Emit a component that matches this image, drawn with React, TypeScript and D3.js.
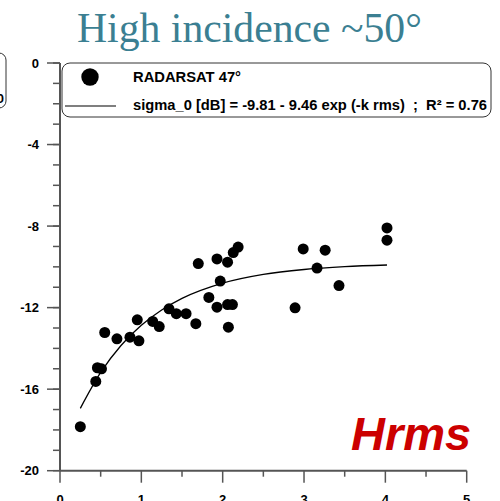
import React from "react";
import * as d3 from "d3";

const hrms = [0.25, 0.44, 0.46, 0.51, 0.55, 0.7, 0.86, 0.97, 0.95, 1.14, 1.22, 1.34, 1.43, 1.55, 1.67, 1.7, 1.83, 1.93, 1.93, 1.97, 2.06, 2.06, 2.12, 2.07, 2.13, 2.19, 2.99, 3.26, 3.16, 3.43, 2.89, 4.02, 4.02];
const sigma0 = [-17.84, -15.62, -14.95, -15.0, -13.22, -13.53, -13.45, -13.63, -12.6, -12.68, -12.93, -12.06, -12.3, -12.3, -12.79, -9.84, -11.5, -9.61, -11.98, -10.7, -9.77, -11.85, -11.85, -12.96, -9.3, -9.03, -9.12, -9.18, -10.06, -10.92, -12.01, -8.69, -8.09];

const fitX = [0.25, 0.5, 0.75, 1.0, 1.25, 1.5, 2.0, 2.5, 3.0, 3.5, 4.02];
const fitY = [-16.94, -15.18, -13.86, -12.87, -12.12, -11.55, -10.8, -10.37, -10.13, -9.99, -9.91];

const xMajor = [0, 1, 2, 3, 4, 5];
const xMinor = [0.5, 1.5, 2.5, 3.5, 4.5];
const yMajor = [0, -4, -8, -12, -16, -20];
const yMinor = d3.range(0, -21, -1);

const title = "High incidence ~50°";
const legendSeries = "RADARSAT 47°";
const legendFit = "sigma_0 [dB] = -9.81 - 9.46 exp (-k rms)  ;  R² = 0.76";
const axisName = "Hrms";

export default function App() {
  const x = d3.scaleLinear().domain([0, 5]).range([60, 466.7]);
  const y = d3.scaleLinear().domain([-20, 0]).range([470.7, 63]);
  const line = d3
    .line<number>()
    .x((_, i) => x(fitX[i]))
    .y((d) => y(d))
    .curve(d3.curveMonotoneX);
  const axisColor = "#555";
  const font = "Liberation Sans, Arial, sans-serif";

  return (
    <svg
      width={500}
      height={501}
      style={{ position: "absolute", left: 0, top: 0, background: "#fff" }}
    >
      {/* partial neighbouring box */}
      <rect x={-200} y={53} width={206} height={55} rx={7} fill="none" stroke="#333" strokeWidth={1} />
      <text x={4} y={103} textAnchor="end" fontFamily={font} fontWeight="bold" fontSize={13}>0</text>

      <text x={77} y={42} fontFamily="Liberation Serif, Times New Roman, serif" fontSize={41.7} fill="#3b7f92">
        {title}
      </text>

      {/* axes */}
      <line x1={x(0)} x2={x(0)} y1={y(0)} y2={y(-20)} stroke={axisColor} strokeWidth={2} />
      <line x1={x(0)} x2={x(5)} y1={y(-20)} y2={y(-20)} stroke={axisColor} strokeWidth={2} />
      {yMinor.map((v) => (
        <line key={"ym" + v} x1={53} x2={x(0)} y1={y(v)} y2={y(v)} stroke={axisColor} strokeWidth={1.5} />
      ))}
      {yMajor.map((v) => (
        <g key={"yM" + v}>
          <line x1={47} x2={x(0)} y1={y(v)} y2={y(v)} stroke={axisColor} strokeWidth={1.5} />
          <text x={39} y={y(v) + 4.5} textAnchor="end" fontFamily={font} fontWeight="bold" fontSize={13}>
            {v}
          </text>
        </g>
      ))}
      {xMinor.map((v) => (
        <line key={"xm" + v} x1={x(v)} x2={x(v)} y1={y(-20)} y2={y(-20) + 6} stroke={axisColor} strokeWidth={1.5} />
      ))}
      {xMajor.map((v) => (
        <g key={"xM" + v}>
          <line x1={x(v)} x2={x(v)} y1={y(-20)} y2={y(-20) + 12} stroke={axisColor} strokeWidth={1.5} />
          <text x={x(v)} y={503.5} textAnchor="middle" fontFamily={font} fontWeight="bold" fontSize={13}>
            {v}
          </text>
        </g>
      ))}

      {/* legend */}
      <rect x={62} y={63} width={429} height={54} rx={8} fill="#fff" stroke="#333" strokeWidth={1} />
      <circle cx={90} cy={77} r={8.7} fill="#000" />
      <text
        x={133}
        y={82}
        fontFamily={font}
        fontWeight="bold"
        fontSize={14}
        textLength={108}
        lengthAdjust="spacingAndGlyphs"
      >
        {legendSeries}
      </text>
      <line x1={65} x2={116} y1={106} y2={106} stroke="#000" strokeWidth={1.2} />
      <text
        x={133}
        y={110}
        fontFamily={font}
        fontWeight="bold"
        fontSize={14}
        textLength={354}
        lengthAdjust="spacingAndGlyphs"
        style={{ whiteSpace: "pre" }}
      >
        {legendFit}
      </text>

      {/* fit */}
      <path d={line(fitY) || ""} fill="none" stroke="#000" strokeWidth={1.3} />

      {/* points */}
      {hrms.map((h, i) => (
        <circle key={i} cx={x(h)} cy={y(sigma0[i])} r={5.5} fill="#000" />
      ))}

      <text x={351} y={450} fontFamily={font} fontWeight="bold" fontStyle="italic" fontSize={47} fill="#cc0000">
        {axisName}
      </text>
    </svg>
  );
}
